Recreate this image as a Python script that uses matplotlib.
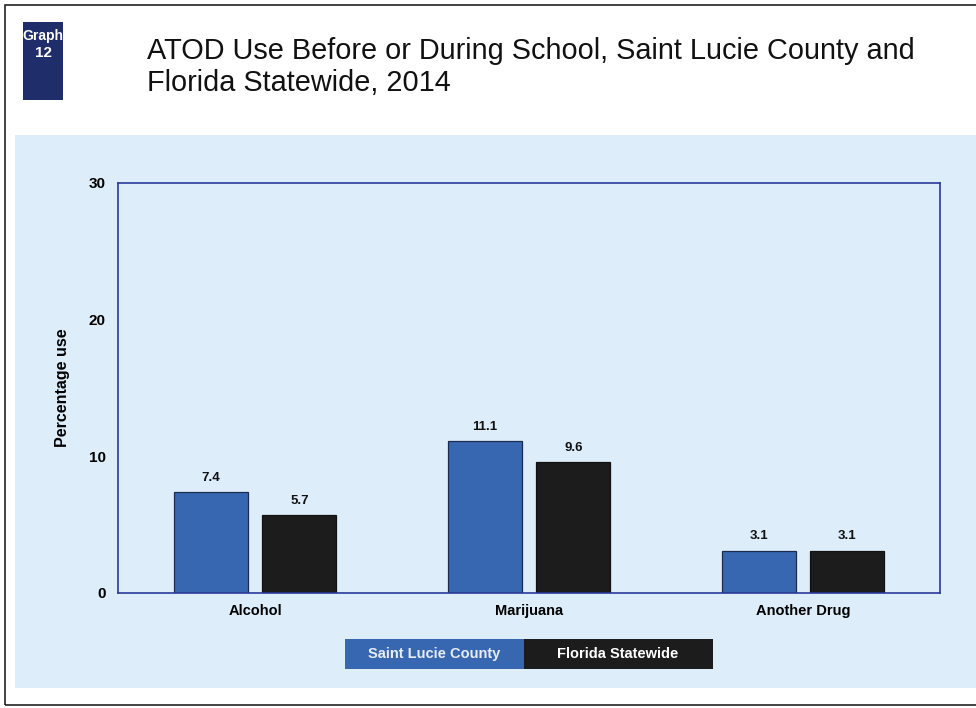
import matplotlib.pyplot as plt
from matplotlib.patches import Rectangle
import numpy as np

categories = ['Alcohol', 'Marijuana', 'Another Drug']
county = [7.4, 11.1, 3.1]
statewide = [5.7, 9.6, 3.1]
series_names = ['Saint Lucie County', 'Florida Statewide']
yticks = [0, 10, 20, 30]

blue = '#3767b1'
black = '#1c1c1c'
navy = '#1f2d6b'
panel = '#ddeefa'

plt.rcParams['font.family'] = ['Liberation Sans', 'DejaVu Sans']

W, H = 976, 708
fig = plt.figure(figsize=(W / 100, H / 100), dpi=100)
fig.patch.set_facecolor('white')

def fx(px):
    return px / W

def fy(py):
    return 1 - py / H

# outer frame
fig.patches.append(Rectangle((fx(5), fy(705)), fx(1000), fy(5) - fy(705),
                             transform=fig.transFigure, fill=False,
                             edgecolor='#222222', lw=1.2, zorder=-2))
# light blue panel
fig.patches.append(Rectangle((fx(15), fy(688)), 1, fy(135) - fy(688),
                             transform=fig.transFigure, facecolor=panel,
                             edgecolor='none', zorder=-3))
# graph badge
fig.patches.append(Rectangle((fx(23), fy(100)), fx(40), fy(22) - fy(100),
                             transform=fig.transFigure, facecolor=navy,
                             edgecolor='none'))
fig.text(fx(43), fy(36), 'Graph', color='white', fontsize=10, fontweight='bold',
         ha='center', va='center')
fig.text(fx(43), fy(53), '12', color='white', fontsize=11, fontweight='bold',
         ha='center', va='center')
fig.text(fx(147), fy(51), 'ATOD Use Before or During School, Saint Lucie County and',
         fontsize=20.8, ha='left', va='center', color='#111111')
fig.text(fx(147), fy(83), 'Florida Statewide, 2014',
         fontsize=20.8, ha='left', va='center', color='#111111')

ax = fig.add_axes([fx(118), fy(593), fx(940) - fx(118), fy(183) - fy(593)])
ax.set_facecolor(panel)
x = np.arange(len(categories))
w = 0.27
off = 0.162
b1 = ax.bar(x - off, county, w, color=blue, edgecolor='#1a2a50', lw=0.9)
b2 = ax.bar(x + off, statewide, w, color=black, edgecolor='#111111', lw=0.9)
for bars, vals in ((b1, county), (b2, statewide)):
    for r, v in zip(bars, vals):
        ax.text(r.get_x() + r.get_width() / 2, v + 0.6, f'{v:.1f}',
                ha='center', va='bottom', fontsize=9.5, fontweight='bold',
                color='#111111')

ax.set_xlim(-0.5, 2.5)
ax.set_ylim(0, 30)
ax.set_yticks(yticks)
ax.set_yticklabels([str(t) for t in yticks], fontsize=11, fontweight='bold')
ax.set_xticks(x)
ax.set_xticklabels(categories, fontsize=10.5, fontweight='bold')
ax.tick_params(length=0, pad=8)
ax.tick_params(axis='y', pad=9)
ax.set_ylabel('Percentage use', fontsize=11.5, fontweight='bold', labelpad=13)
for s in ax.spines.values():
    s.set_color('#2a3a9a')
    s.set_linewidth(1.2)

# legend as two coloured blocks
fig.patches.append(Rectangle((fx(345), fy(669)), fx(524) - fx(345), fy(639) - fy(669),
                             transform=fig.transFigure, facecolor=blue, edgecolor='none'))
fig.patches.append(Rectangle((fx(524), fy(669)), fx(713) - fx(524), fy(639) - fy(669),
                             transform=fig.transFigure, facecolor=black, edgecolor='none'))
fig.text(fx(434), fy(654), series_names[0], color='#e8eef8', fontsize=10.5,
         fontweight='bold', ha='center', va='center')
fig.text(fx(618), fy(654), series_names[1], color='white', fontsize=10.5,
         fontweight='bold', ha='center', va='center')

fig.savefig('out.png', dpi=100)
